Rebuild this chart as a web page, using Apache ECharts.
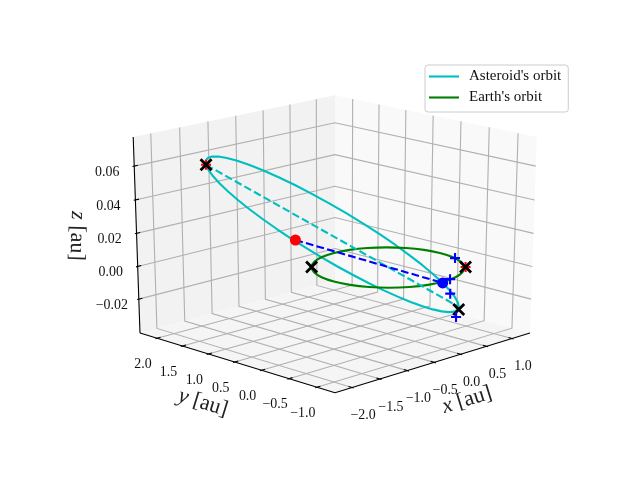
<!DOCTYPE html>
<html>
<head>
<meta charset="utf-8">
<script src="https://cdn.jsdelivr.net/npm/echarts@6/dist/echarts.min.js"></script>
<style>
    html, body { margin: 0; padding: 0; background: #fff; }
    #main { width: 640px; height: 480px; }
</style>
</head>
<body>
<div id="main"></div>
<script type="text/javascript">
    // axis limits and ticks [au]
    var xLim = [-2.3, 1.36];
    var yLim = [-1.32, 2.34];
    var zLim = [-0.041, 0.077];
    var xTicks = [-2.0, -1.5, -1.0, -0.5, 0.0, 0.5, 1.0];
    var yTicks = [-1.0, -0.5, 0.0, 0.5, 1.0, 1.5, 2.0];
    var zTicks = [-0.02, 0.00, 0.02, 0.04, 0.06];
    var xTickLabels = ['\u22122.0', '\u22121.5', '\u22121.0', '\u22120.5', '0.0', '0.5', '1.0'];
    var yTickLabels = ['\u22121.0', '\u22120.5', '0.0', '0.5', '1.0', '1.5', '2.0'];
    var zTickLabels = ['\u22120.02', '0.00', '0.02', '0.04', '0.06'];

    // asteroid orbit
    var astX = [-1.605, -1.452, -1.284, -1.102, -0.909, -0.708, -0.504, -0.300, -0.098, 0.096, 0.281, 0.452, 0.609, 0.746, 0.863, 0.956, 1.024, 1.066, 1.082, 1.072, 1.035, 0.972, 0.884, 0.772, 0.639, 0.486, 0.318, 0.136, -0.057, -0.258, -0.462, -0.666, -0.868, -1.062, -1.247, -1.418, -1.575, -1.712, -1.829, -1.922, -1.990, -2.032, -2.048, -2.038, -2.001, -1.938, -1.850, -1.738, -1.605];
    var astY = [1.729, 1.851, 1.950, 2.025, 2.074, 2.096, 2.091, 2.059, 2.002, 1.919, 1.812, 1.682, 1.533, 1.366, 1.186, 0.993, 0.792, 0.587, 0.381, 0.178, -0.020, -0.209, -0.386, -0.545, -0.689, -0.811, -0.910, -0.985, -1.034, -1.056, -1.051, -1.019, -0.962, -0.879, -0.772, -0.642, -0.493, -0.326, -0.146, 0.047, 0.248, 0.453, 0.659, 0.862, 1.060, 1.249, 1.426, 1.585, 1.729];
    var astZ = [0.06014, 0.05498, 0.04925, 0.04297, 0.03626, 0.02921, 0.02200, 0.01473, 0.00749, 0.00047, -0.00627, -0.01257, -0.01841, -0.02358, -0.02808, -0.03175, -0.03455, -0.03645, -0.03743, -0.03749, -0.03657, -0.03473, -0.03198, -0.02835, -0.02394, -0.01879, -0.01306, -0.00678, -0.00007, 0.00698, 0.01419, 0.02146, 0.02871, 0.03572, 0.04247, 0.04876, 0.05461, 0.05978, 0.06427, 0.06794, 0.07074, 0.07264, 0.07362, 0.07367, 0.07277, 0.07092, 0.06817, 0.06454, 0.06014];

    // earth orbit
    var earthX = [1.000, 0.966, 0.866, 0.707, 0.500, 0.259, 0.000, -0.259, -0.500, -0.707, -0.866, -0.966, -1.000, -0.966, -0.866, -0.707, -0.500, -0.259, 0.000, 0.259, 0.500, 0.707, 0.866, 0.966, 1.000];
    var earthY = [0.000, 0.259, 0.500, 0.707, 0.866, 0.966, 1.000, 0.966, 0.866, 0.707, 0.500, 0.259, 0.000, -0.259, -0.500, -0.707, -0.866, -0.966, -1.000, -0.966, -0.866, -0.707, -0.500, -0.259, 0.000];

    // apsides (aphelion, perihelion) and nodes
    var apsisX = [-1.605, 0.639];
    var apsisY = [1.729, -0.689];
    var apsisZ = [0.06014, -0.02394];
    var nodeX = [0.11, -0.057];
    var nodeY = [1.85, -1.034];
    var nodeZ = [0.0, 0.0];

    // earth and asteroid positions
    var blackX = [-1.605, -0.707, 0.66, 0.72];
    var blackY = [1.729, 0.707, -0.67, -0.72];
    var blackZ = [0.06014, 0.0, -0.026, 0.0];
    var redX = [-1.605, 0.72];
    var redY = [1.729, -0.72];
    var redZ = [0.06014, 0.0];
    var plusX = [0.95, 0.14, 0.16, 0.83];
    var plusY = [-0.32, -0.98, -0.97, -0.47];
    var plusZ = [0.0, 0.0, -0.009, -0.034];

    var serif = '"Liberation Serif", serif';
    var gridColor = '#b0b0b0';

    // same projection as mplot3d: elev 20, azim -135, dist 10
    var sinE = Math.sin(20 * Math.PI / 180), cosE = Math.cos(20 * Math.PI / 180), r2 = Math.SQRT1_2;
    function project(x, y, z) {
        var px = (x - xLim[0]) / (xLim[1] - xLim[0]) - 0.5;
        var py = (y - yLim[0]) / (yLim[1] - yLim[0]) - 0.5;
        var pz = (z - zLim[0]) / (zLim[1] - zLim[0]) - 0.5;
        var xv = r2 * (px - py);
        var yv = r2 * sinE * (px + py) + cosE * pz;
        var zv = -r2 * cosE * (px + py) + sinE * pz;
        var w = 10 - zv;
        return [335 + 2805 * xv / w, 236.7 - 2085 * yv / w];
    }
    function path3d(xs, ys, zs) {
        return xs.map(function (x, i) {
            return project(x, ys[i], zs ? zs[i] : 0);
        });
    }

    function renderBox(params, api) {
        var x0 = xLim[0], x1 = xLim[1], y0 = yLim[0], y1 = yLim[1], z0 = zLim[0], z1 = zLim[1];
        var xr = x1 - x0, yr = y1 - y0;
        var kids = [];
        function c(p) { return api.coord(p); }
        function poly(pts, fill) {
            kids.push({type: 'polygon', shape: {points: pts.map(c)}, style: {fill: fill}, silent: true});
        }
        function line(pts, color, width) {
            kids.push({type: 'polyline', shape: {points: pts.map(c)}, style: {stroke: color, lineWidth: width, fill: 'none'}, silent: true});
        }
        function label(p, dx, dy, text) {
            var q = c(p);
            kids.push({type: 'text', x: q[0] + dx, y: q[1] + dy, silent: true, style: {
                text: text, fontFamily: serif, fontSize: 13.9, fill: '#111', align: 'center', verticalAlign: 'middle'
            }});
        }
        // panes
        poly([project(x0, y1, z0), project(x1, y1, z0), project(x1, y1, z1), project(x0, y1, z1)], '#f2f2f2');
        poly([project(x1, y0, z0), project(x1, y1, z0), project(x1, y1, z1), project(x1, y0, z1)], '#f9f9f9');
        poly([project(x0, y0, z0), project(x1, y0, z0), project(x1, y1, z0), project(x0, y1, z0)], '#f5f5f5');
        // grid
        xTicks.forEach(function (t) {
            line([project(t, y0, z0), project(t, y1, z0), project(t, y1, z1)], gridColor, 1.1);
        });
        yTicks.forEach(function (t) {
            line([project(x0, t, z0), project(x1, t, z0), project(x1, t, z1)], gridColor, 1.1);
        });
        zTicks.forEach(function (t) {
            line([project(x0, y1, t), project(x1, y1, t), project(x1, y0, t)], gridColor, 1.1);
        });
        // axis lines
        line([project(x0, y0, z0), project(x1, y0, z0)], '#000', 1.1);
        line([project(x0, y1, z0), project(x0, y0, z0)], '#000', 1.1);
        line([project(x0, y1, z0), project(x0, y1, z1)], '#000', 1.1);
        // ticks and their labels
        xTicks.forEach(function (t, i) {
            line([project(t, y0 + yr * 0.017, z0), project(t, y0 - yr * 0.008, z0)], '#000', 1.1);
            label(project(t, y0, z0), 11, 28, xTickLabels[i]);
        });
        yTicks.forEach(function (t, i) {
            line([project(x0 + xr * 0.017, t, z0), project(x0 - xr * 0.008, t, z0)], '#000', 1.1);
            label(project(x0, t, z0), -14, 26, yTickLabels[i]);
        });
        zTicks.forEach(function (t, i) {
            line([project(x0 + xr * 0.017, y1, t), project(x0 - xr * 0.008, y1, t)], '#000', 1.1);
            label(project(x0, y1, t), -27, 6, zTickLabels[i]);
        });
        return {type: 'group', children: kids};
    }

    function lineSeries(name, pts, color, dashed, smooth) {
        return {
            name: name,
            type: 'line',
            data: pts,
            symbol: 'none',
            smooth: smooth,
            clip: false,
            silent: true,
            z: 2,
            lineStyle: {color: color, width: 2.1, type: dashed ? [7.7, 3.3] : 'solid'},
            itemStyle: {color: color}
        };
    }
    function markSeries(pts, path, size, color, width, z) {
        return {
            type: 'scatter',
            data: pts,
            symbol: path,
            symbolSize: size,
            clip: false,
            silent: true,
            z: z,
            itemStyle: {color: width ? 'rgba(0,0,0,0)' : color, borderColor: color, borderWidth: width, opacity: 1}
        };
    }
    var crossPath = 'path://M0 0L10 10M0 10L10 0';
    var plusPath = 'path://M5 0L5 10M0 5L10 5';

    var axisText = {
        font: '22px ' + serif, fill: '#222', align: 'center', verticalAlign: 'middle',
        rich: {i: {fontStyle: 'italic', fontSize: 22, fontFamily: serif, fill: '#222'}}
    };
    function axisLabel(text, x, y, rotation) {
        return {
            type: 'text', x: x, y: y, rotation: rotation, silent: true,
            style: echarts.util.extend({text: text}, axisText)
        };
    }

    var myChart = echarts.init(document.getElementById('main'));
    myChart.setOption({
        animation: false,
        backgroundColor: '#fff',
        grid: {left: 0, right: 0, top: 0, bottom: 0},
        xAxis: {type: 'value', min: 0, max: 640, show: false},
        yAxis: {type: 'value', min: 0, max: 480, inverse: true, show: false},
        legend: {
            data: ["Asteroid's orbit", "Earth's orbit"],
            orient: 'vertical',
            left: 425,
            top: 65,
            padding: [4, 7, 7, 4],
            icon: 'rect',
            itemWidth: 30,
            itemHeight: 2.1,
            itemGap: 6,
            backgroundColor: '#fff',
            borderColor: '#ccc',
            borderWidth: 1,
            borderRadius: 3,
            selectedMode: false,
            textStyle: {fontFamily: serif, fontSize: 15, color: '#111', padding: [0, 0, 0, 5]}
        },
        graphic: [
            axisLabel('{i|x} [au]', 467, 400, 0.3),
            axisLabel('{i|y} [au]', 203, 403, -0.3),
            axisLabel('{i|z} [au]', 77, 236, -1.6)
        ],
        series: [
            {type: 'custom', renderItem: renderBox, data: [[0, 0]], clip: false, silent: true, z: 0},
            lineSeries("Asteroid's orbit", path3d(astX, astY, astZ), '#00bfbf', false, false),
            lineSeries("Earth's orbit", path3d(earthX, earthY), '#008000', false, 0.4),
            lineSeries('apsides', path3d(apsisX, apsisY, apsisZ), '#00bfbf', true, false),
            lineSeries('nodes', path3d(nodeX, nodeY, nodeZ), '#0000ff', true, false),
            markSeries(path3d(redX, redY, redZ), plusPath, 10, '#ff0000', 2.1, 5),
            markSeries(path3d(blackX, blackY, blackZ), crossPath, 11, '#000', 2.8, 6),
            markSeries(path3d(plusX, plusY, plusZ), plusPath, 10, '#0000ff', 2.1, 7),
            markSeries([project(nodeX[0], nodeY[0], nodeZ[0])], 'circle', 11, '#ff0000', 0, 8),
            markSeries([project(nodeX[1], nodeY[1], nodeZ[1])], 'circle', 11, '#0000ff', 0, 8)
        ]
    });
</script>
</body>
</html>
